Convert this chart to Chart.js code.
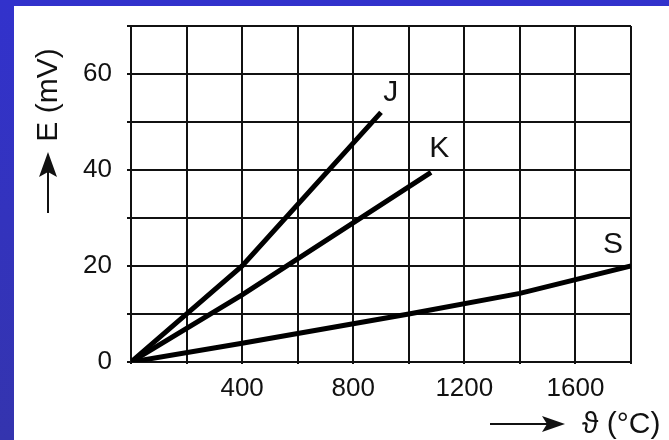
<!DOCTYPE html>
<html>
<head>
<meta charset="utf-8">
<script src="https://cdn.jsdelivr.net/npm/chart.js@4"></script>
<style>
  html, body { margin: 0; padding: 0; }
  body {
    width: 669px; height: 440px; overflow: hidden;
    background: linear-gradient(to bottom, #3232cc, #3434ae);
  }
  #wrap {
    position: absolute; left: 14px; top: 6px;
    width: 655px; height: 434px; background: #fff;
  }
</style>
</head>
<body>
<div id="wrap"><canvas id="chart"></canvas></div>
<script>
// thermocouple EMF curves
const tempJ = [0, 400, 900];
const emfJ = [0, 20, 52];
const tempK = [0, 400, 1080];
const emfK = [0, 14, 39.5];
const tempS = [0, 400, 1000, 1400, 1800];
const emfS = [0, 3.9, 10, 14.3, 20];

const xTickLabels = [400, 800, 1200, 1600];
const yTickLabels = [0, 20, 40, 60];

const curveNames = ['J', 'K', 'S'];
const curveLabelX = [935, 1110, 1735];
const curveLabelY = [56, 44.5, 24.5];

const FONT = '"Liberation Sans", Arial, sans-serif';
const INK = '#111';

const toPoints = (xs, ys) => xs.map((x, i) => ({ x, y: ys[i] }));

const annotations = {
  id: 'annotations',
  afterDraw(chart) {
    const { ctx, chartArea, scales } = chart;
    ctx.save();
    ctx.fillStyle = INK;
    ctx.strokeStyle = INK;

    // curve names
    ctx.font = `30px ${FONT}`;
    ctx.textAlign = 'center';
    ctx.textBaseline = 'middle';
    curveNames.forEach((name, i) => {
      ctx.fillText(name, scales.x.getPixelForValue(curveLabelX[i]), scales.y.getPixelForValue(curveLabelY[i]));
    });

    // y title with arrow
    const ax = chartArea.left - 83;
    ctx.lineWidth = 2;
    ctx.beginPath();
    ctx.moveTo(ax, 207);
    ctx.lineTo(ax, 165);
    ctx.stroke();
    ctx.beginPath();
    ctx.moveTo(ax, 146);
    ctx.lineTo(ax + 9, 171);
    ctx.lineTo(ax, 166);
    ctx.lineTo(ax - 9, 171);
    ctx.closePath();
    ctx.fill();
    ctx.save();
    ctx.translate(ax, 89);
    ctx.rotate(-Math.PI / 2);
    ctx.font = `30px ${FONT}`;
    ctx.textAlign = 'center';
    ctx.textBaseline = 'middle';
    ctx.fillText('E (mV)', 0, 1);
    ctx.restore();

    // x title with arrow
    const ay = 418;
    ctx.beginPath();
    ctx.moveTo(476, ay);
    ctx.lineTo(535, ay);
    ctx.stroke();
    ctx.beginPath();
    ctx.moveTo(551, ay);
    ctx.lineTo(528, ay - 8);
    ctx.lineTo(533, ay);
    ctx.lineTo(528, ay + 8);
    ctx.closePath();
    ctx.fill();
    ctx.font = `30px ${FONT}`;
    ctx.textAlign = 'left';
    ctx.textBaseline = 'middle';
    ctx.fillText('\u03D1 (\u00B0C)', 568, ay + 1);
    ctx.restore();
  },
};

const lineStyle = {
  borderColor: '#000',
  borderWidth: 5,
  pointRadius: 0,
  tension: 0,
  fill: false,
};

new Chart(document.getElementById('chart'), {
  type: 'line',
  data: {
    datasets: [
      { label: 'J', data: toPoints(tempJ, emfJ), ...lineStyle },
      { label: 'K', data: toPoints(tempK, emfK), ...lineStyle },
      { label: 'S', data: toPoints(tempS, emfS), ...lineStyle },
    ],
  },
  options: {
    responsive: true,
    maintainAspectRatio: false,
    animation: false,
    events: [],
    layout: { padding: { top: 20, right: 38, bottom: 0, left: 0 } },
    plugins: { legend: { display: false }, tooltip: { enabled: false } },
    scales: {
      x: {
        type: 'linear',
        min: 0,
        max: 1800,
        afterFit: (s) => { s.height = 78; s.paddingLeft = 0; s.paddingRight = 0; },
        border: { color: INK, width: 2 },
        grid: { color: INK, lineWidth: 2, tickLength: 2 },
        ticks: {
          stepSize: 200,
          autoSkip: false,
          maxRotation: 0,
          padding: 9,
          color: INK,
          font: { family: FONT, size: 26 },
          callback: (v) => (xTickLabels.includes(v) ? String(v) : ''),
        },
      },
      y: {
        min: 0,
        max: 70,
        afterFit: (s) => { s.width = 117; s.paddingTop = 0; s.paddingBottom = 0; },
        border: { color: INK, width: 2 },
        grid: { color: INK, lineWidth: 2, tickLength: 4 },
        ticks: {
          stepSize: 10,
          autoSkip: false,
          padding: 15,
          color: INK,
          font: { family: FONT, size: 26 },
          callback: (v) => (yTickLabels.includes(v) ? String(v) : ''),
        },
      },
    },
  },
  plugins: [annotations],
});
</script>
</body>
</html>
